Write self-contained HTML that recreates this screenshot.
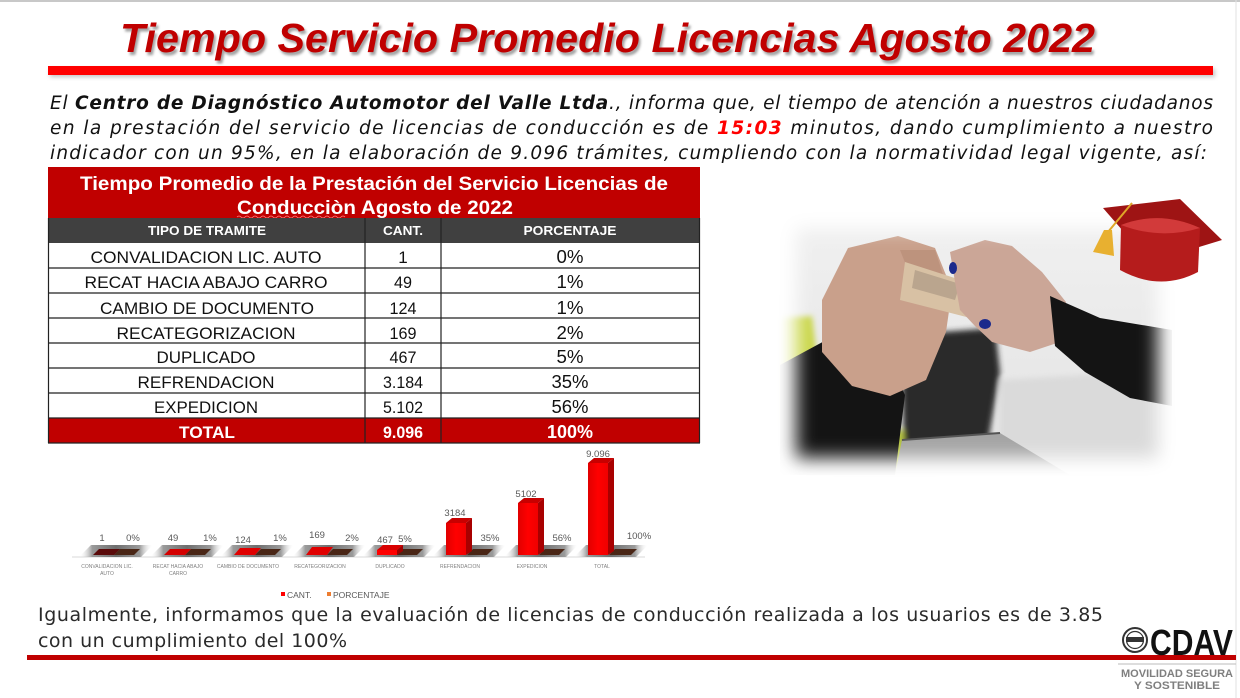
<!DOCTYPE html>
<html>
<head>
<meta charset="utf-8">
<style>
  html,body{margin:0;padding:0;background:#fff;}
  svg{display:block;}
  text{font-family:"Liberation Sans", Arial, sans-serif;}
  .cg text{font-family:"DejaVu Sans", "Liberation Sans", sans-serif;}
</style>
</head>
<body>
<svg width="1240" height="698" viewBox="0 0 1240 698" xmlns="http://www.w3.org/2000/svg">
  <defs>
    <filter id="blur1" x="-5%" y="-20%" width="110%" height="140%"><feGaussianBlur stdDeviation="1.2"/></filter>
    <filter id="blur2" x="-10%" y="-50%" width="120%" height="200%"><feGaussianBlur stdDeviation="2"/></filter>
    <filter id="blur3" x="-20%" y="-20%" width="140%" height="140%"><feGaussianBlur stdDeviation="3"/></filter>
    <filter id="blur8" x="-20%" y="-20%" width="140%" height="140%"><feGaussianBlur stdDeviation="9"/></filter>
    <mask id="pm" maskUnits="userSpaceOnUse" x="740" y="180" width="470" height="320">
      <rect x="796" y="228" width="362" height="230" fill="#fff" filter="url(#blur8)"/>
    </mask>
    <linearGradient id="floorG" x1="0" y1="0" x2="1" y2="0">
      <stop offset="0" stop-color="#fff" stop-opacity="0"/>
      <stop offset="0.18" stop-color="#9a9a9a"/>
      <stop offset="0.5" stop-color="#6e6e6e"/>
      <stop offset="0.82" stop-color="#9a9a9a"/>
      <stop offset="1" stop-color="#fff" stop-opacity="0"/>
    </linearGradient>
    <linearGradient id="barFront" x1="0" y1="0" x2="1" y2="0">
      <stop offset="0" stop-color="#e00000"/>
      <stop offset="0.5" stop-color="#ff0000"/>
      <stop offset="1" stop-color="#f00000"/>
    </linearGradient>
    <linearGradient id="bgPhoto" x1="0" y1="0" x2="0" y2="1">
      <stop offset="0" stop-color="#f1f1f1"/>
      <stop offset="1" stop-color="#e2e2e2"/>
    </linearGradient>
  </defs>

  <!-- frame lines -->
  <line x1="0" y1="1" x2="1240" y2="1" stroke="#c8c8c8" stroke-width="2"/>
  <line x1="1236" y1="0" x2="1236" y2="698" stroke="#e2e2e2" stroke-width="1"/>

  <!-- Title -->
  <text x="122" y="55" font-size="41" font-weight="bold" font-style="italic" fill="#555" opacity="0.55" textLength="975" lengthAdjust="spacingAndGlyphs" filter="url(#blur1)">Tiempo Servicio Promedio Licencias Agosto 2022</text>
  <text x="120" y="52" font-size="41" font-weight="bold" font-style="italic" fill="#c00000" textLength="975" lengthAdjust="spacingAndGlyphs">Tiempo Servicio Promedio Licencias Agosto 2022</text>

  <!-- red bar under title -->
  <rect x="50" y="69" width="1165" height="8" fill="#888" opacity="0.5" filter="url(#blur2)"/>
  <rect x="48" y="66" width="1165" height="9" fill="#ff0000"/>

  <!-- paragraph -->
  <g class="cg" font-size="18.5" font-style="italic" fill="#111" style="white-space:pre">
    <text x="50" y="109" textLength="1163" lengthAdjust="spacing">El <tspan font-weight="bold">Centro de Diagnóstico Automotor del Valle Ltda</tspan>., informa que, el tiempo de atención a nuestros ciudadanos</text>
    <text x="50" y="134" textLength="1163" lengthAdjust="spacing">en  la prestación del servicio de licencias de conducción  es de <tspan font-weight="bold" fill="#ff0000">15:03</tspan> minutos, dando cumplimiento a nuestro</text>
    <text x="50" y="159" textLength="1157" lengthAdjust="spacing">indicador con un 95%, en la elaboración de   9.096 trámites,  cumpliendo con la normatividad legal vigente, así:</text>
  </g>

  <!-- TABLE -->
  <rect x="48" y="167" width="652" height="51" fill="#c00000"/>
  <text x="374" y="190" font-size="19" font-weight="bold" fill="#fff" text-anchor="middle" textLength="588" lengthAdjust="spacingAndGlyphs">Tiempo Promedio de la Prestación del Servicio Licencias de</text>
  <text x="375" y="214" font-size="19" font-weight="bold" fill="#fff" text-anchor="middle" textLength="276" lengthAdjust="spacingAndGlyphs">Conducciòn Agosto de 2022</text>
  <path d="M237 217 q2 -2 4 0 t4 0 t4 0 t4 0 t4 0 t4 0 t4 0 t4 0 t4 0 t4 0 t4 0 t4 0 t4 0 t4 0 t4 0 t4 0 t4 0 t4 0 t4 0 t4 0 t4 0 t4 0 t4 0 t4 0 t4 0 t4 0 t4 0" stroke="#ff8080" stroke-width="0.8" fill="none"/>

  <rect x="48" y="218" width="652" height="25" fill="#404040"/>
  <g font-size="12.5" font-weight="bold" fill="#fff" text-anchor="middle">
    <text x="207" y="235" textLength="118" lengthAdjust="spacingAndGlyphs">TIPO DE TRAMITE</text>
    <text x="403" y="235" textLength="40" lengthAdjust="spacingAndGlyphs">CANT.</text>
    <text x="570" y="235" textLength="93" lengthAdjust="spacingAndGlyphs">PORCENTAJE</text>
  </g>

  <!-- body rows -->
  <rect x="48" y="243" width="652" height="175" fill="#fff"/>
  <rect x="48" y="418" width="652" height="25" fill="#c00000"/>
  <g stroke="#222" stroke-width="1.2">
    <line x1="48" y1="268" x2="700" y2="268"/>
    <line x1="48" y1="293" x2="700" y2="293"/>
    <line x1="48" y1="318" x2="700" y2="318"/>
    <line x1="48" y1="343" x2="700" y2="343"/>
    <line x1="48" y1="368" x2="700" y2="368"/>
    <line x1="48" y1="393" x2="700" y2="393"/>
    <line x1="48" y1="418" x2="700" y2="418"/>
    <line x1="48.5" y1="218" x2="48.5" y2="443"/>
    <line x1="699.5" y1="218" x2="699.5" y2="443"/>
    <line x1="365" y1="218" x2="365" y2="443"/>
    <line x1="441" y1="218" x2="441" y2="443"/>
    <line x1="48" y1="443" x2="700" y2="443"/>
  </g>
  <g font-size="17" fill="#111" text-anchor="middle">
    <text x="206" y="263" textLength="231" lengthAdjust="spacingAndGlyphs">CONVALIDACION LIC. AUTO</text>
    <text x="206" y="288" textLength="243" lengthAdjust="spacingAndGlyphs">RECAT HACIA ABAJO CARRO</text>
    <text x="207" y="314" textLength="214" lengthAdjust="spacingAndGlyphs">CAMBIO DE DOCUMENTO</text>
    <text x="206" y="339" textLength="179" lengthAdjust="spacingAndGlyphs">RECATEGORIZACION</text>
    <text x="206" y="363" textLength="99" lengthAdjust="spacingAndGlyphs">DUPLICADO</text>
    <text x="206" y="388" textLength="137" lengthAdjust="spacingAndGlyphs">REFRENDACION</text>
    <text x="206" y="413" textLength="104" lengthAdjust="spacingAndGlyphs">EXPEDICION</text>

    <text x="403" y="263">1</text>
    <text x="403" y="288" textLength="18" lengthAdjust="spacingAndGlyphs">49</text>
    <text x="403" y="314" textLength="27" lengthAdjust="spacingAndGlyphs">124</text>
    <text x="403" y="339" textLength="27" lengthAdjust="spacingAndGlyphs">169</text>
    <text x="403" y="363" textLength="27" lengthAdjust="spacingAndGlyphs">467</text>
    <text x="403" y="388" textLength="40" lengthAdjust="spacingAndGlyphs">3.184</text>
    <text x="403" y="413" textLength="40" lengthAdjust="spacingAndGlyphs">5.102</text>

    <text x="570" y="263" font-size="18" textLength="27" lengthAdjust="spacingAndGlyphs">0%</text>
    <text x="570" y="288" font-size="18" textLength="27" lengthAdjust="spacingAndGlyphs">1%</text>
    <text x="570" y="314" font-size="18" textLength="27" lengthAdjust="spacingAndGlyphs">1%</text>
    <text x="570" y="339" font-size="18" textLength="27" lengthAdjust="spacingAndGlyphs">2%</text>
    <text x="570" y="363" font-size="18" textLength="27" lengthAdjust="spacingAndGlyphs">5%</text>
    <text x="570" y="388" font-size="18" textLength="37" lengthAdjust="spacingAndGlyphs">35%</text>
    <text x="570" y="413" font-size="18" textLength="37" lengthAdjust="spacingAndGlyphs">56%</text>
  </g>
  <g font-size="17" font-weight="bold" fill="#fff" text-anchor="middle">
    <text x="207" y="438" textLength="56" lengthAdjust="spacingAndGlyphs">TOTAL</text>
    <text x="403" y="438" textLength="40" lengthAdjust="spacingAndGlyphs">9.096</text>
    <text x="570" y="438" font-size="18" textLength="46" lengthAdjust="spacingAndGlyphs">100%</text>
  </g>

  <!-- CHART -->
  <line x1="72" y1="557" x2="645" y2="557" stroke="#d9d9d9" stroke-width="1"/>

  <g>
    <polygon points="79,557 91,545 153,545 141,557" fill="url(#floorG)"/>
    <polygon points="150,557 162,545 224,545 212,557" fill="url(#floorG)"/>
    <polygon points="220,557 232,545 294,545 282,557" fill="url(#floorG)"/>
    <polygon points="292,557 304,545 366,545 354,557" fill="url(#floorG)"/>
    <polygon points="362,557 374,545 436,545 424,557" fill="url(#floorG)"/>
    <polygon points="432,557 444,545 506,545 494,557" fill="url(#floorG)"/>
    <polygon points="504,557 516,545 578,545 566,557" fill="url(#floorG)"/>
    <polygon points="574,557 586,545 648,545 636,557" fill="url(#floorG)"/>
  </g>
  <g fill="#4a2616">
    <polygon points="114,555 120,549 140,549 134,555"/>
    <polygon points="185,555 191,549 211,549 205,555"/>
    <polygon points="255,555 261,549 281,549 275,555"/>
    <polygon points="327,555 333,549 353,549 347,555"/>
    <polygon points="397,555 403,549 423,549 417,555"/>
    <polygon points="467,555 473,549 493,549 487,555"/>
    <polygon points="539,555 545,549 565,549 559,555"/>
    <polygon points="609,555 615,549 637,549 631,555"/>
  </g>
  <polygon points="93,555 99,549 120,549 114,555" fill="#5a0a0a"/>
  <polygon points="164,555 170,549 191,549 185,555" fill="#d40000"/>
  <polygon points="234,555 240,548 261,548 255,555" fill="#e00000"/>
  <polygon points="306,555 312,547 333,547 327,555" fill="#e00000"/>
  <g>
    <polygon points="397,550 403,545 403,551 397,555" fill="#a00000"/>
    <rect x="377" y="550" width="20" height="5" fill="#ff0000"/>
    <polygon points="377,550 383,545 403,545 397,550" fill="#d80000"/>
  </g>
  <g>
    <polygon points="466,523 472,518 472,551 466,555" fill="#a80000"/>
    <rect x="446" y="523" width="20" height="32" fill="url(#barFront)"/>
    <polygon points="446,523 452,518 472,518 466,523" fill="#c80000"/>
  </g>
  <g>
    <polygon points="538,503 544,498 544,551 538,555" fill="#a80000"/>
    <rect x="518" y="503" width="20" height="52" fill="url(#barFront)"/>
    <polygon points="518,503 524,498 544,498 538,503" fill="#c80000"/>
  </g>
  <g>
    <polygon points="608,463 614,458 614,551 608,555" fill="#a80000"/>
    <rect x="588" y="463" width="20" height="92" fill="url(#barFront)"/>
    <polygon points="588,463 594,458 614,458 608,463" fill="#c80000"/>
  </g>

  <g font-size="9.5" fill="#595959" text-anchor="middle">
    <text x="102" y="541">1</text>
    <text x="133" y="541">0%</text>
    <text x="173" y="541">49</text>
    <text x="210" y="541">1%</text>
    <text x="243" y="543">124</text>
    <text x="280" y="541">1%</text>
    <text x="317" y="538">169</text>
    <text x="352" y="541">2%</text>
    <text x="385" y="543">467</text>
    <text x="405" y="542">5%</text>
    <text x="455" y="516">3184</text>
    <text x="490" y="541">35%</text>
    <text x="526" y="497">5102</text>
    <text x="562" y="541">56%</text>
    <text x="598" y="457">9.096</text>
    <text x="639" y="539">100%</text>
  </g>

  <g font-size="5" fill="#7f7f7f" text-anchor="middle">
    <text x="107" y="568">CONVALIDACION LIC.</text>
    <text x="107" y="575">AUTO</text>
    <text x="178" y="568">RECAT HACIA ABAJO</text>
    <text x="178" y="575">CARRO</text>
    <text x="248" y="568">CAMBIO DE DOCUMENTO</text>
    <text x="320" y="568">RECATEGORIZACION</text>
    <text x="390" y="568">DUPLICADO</text>
    <text x="460" y="568">REFRENDACION</text>
    <text x="532" y="568">EXPEDICION</text>
    <text x="602" y="568">TOTAL</text>
  </g>

  <rect x="281" y="592" width="4" height="4" fill="#ff0000"/>
  <text x="287" y="598" font-size="8.5" fill="#595959">CANT.</text>
  <rect x="327" y="592" width="4" height="4" fill="#ed7d31"/>
  <text x="333" y="598" font-size="8.5" fill="#595959">PORCENTAJE</text>

  <!-- PHOTO -->
  <g mask="url(#pm)">
    <rect x="770" y="205" width="410" height="275" fill="url(#bgPhoto)"/>
    <g filter="url(#blur3)">
      <polygon points="780,318 812,316 822,400 780,425" fill="#c9d64a"/>
      <polygon points="840,440 915,428 935,475 835,475" fill="#b9c843"/>
      <polygon points="900,335 995,328 1000,372 985,460 905,462" fill="#2c2c2c"/>
      <polygon points="1000,380 1170,370 1170,470 1000,470" fill="#dadada"/>
    </g>
    <polygon points="902,440 1000,433 1070,475 895,475" fill="#a4a4a4"/>
    <line x1="902" y1="440" x2="1000" y2="433" stroke="#555" stroke-width="2"/>
    <path d="M780,365 L830,338 L880,342 L905,395 L895,475 L780,475 Z" fill="#141414"/>
    <path d="M822,300 L848,248 L898,236 L935,248 L952,290 L946,332 L926,380 L890,396 L852,386 L822,352 Z" fill="#c9a08b"/>
    <path d="M900,250 L935,250 L948,290 L920,300 Z" fill="#b88d78" opacity="0.7"/>
    <polygon points="905,262 992,290 986,322 900,300" fill="#d8c1a4"/>
    <polygon points="915,270 960,284 955,300 912,288" fill="#9b8a78" opacity="0.5"/>
    <path d="M950,252 L985,240 L1012,246 L1042,272 L1066,302 L1060,342 L1030,352 L992,342 L975,326 L960,310 L955,282 Z" fill="#cba697"/>
    <ellipse cx="953" cy="268" rx="4" ry="6" fill="#1c2a8c"/>
    <ellipse cx="985" cy="324" rx="6" ry="5" fill="#1c2a8c"/>
    <path d="M1050,296 L1100,318 L1172,330 L1172,406 L1130,398 L1085,372 L1055,346 Z" fill="#141414"/>
  </g>

  <!-- graduation cap -->
  <g>
    <polygon points="1103,208 1180,199 1222,240 1150,262" fill="#9e1414"/>
    <path d="M1121,225 Q1160,210 1200,228 L1198,272 Q1160,292 1120,270 Z" fill="#b51c1c"/>
    <path d="M1121,225 Q1160,210 1200,228 Q1160,240 1121,225 Z" fill="#d23a3a"/>
    <line x1="1132" y1="203" x2="1108" y2="232" stroke="#e0a628" stroke-width="2"/>
    <polygon points="1104,230 1112,230 1114,256 1093,252" fill="#e8b030"/>
  </g>

  <!-- bottom text -->
  <g class="cg" font-size="19" fill="#2a2a2a">
    <text x="38" y="621" textLength="1065" lengthAdjust="spacing">Igualmente, informamos que la evaluación de licencias de conducción realizada a los usuarios es de 3.85</text>
    <text x="38" y="647" textLength="309" lengthAdjust="spacing">con un cumplimiento del 100%</text>
  </g>

  <rect x="27" y="655" width="1209" height="5" fill="#c00000"/>
  <line x1="1118" y1="664" x2="1236" y2="664" stroke="#bbb" stroke-width="1"/>

  <!-- logo -->
  <g>
    <circle cx="1135" cy="640" r="12" fill="#fff" stroke="#333" stroke-width="2"/>
    <circle cx="1135" cy="640" r="8.5" fill="none" stroke="#333" stroke-width="1.2"/>
    <rect x="1126" y="637" width="18" height="5" fill="#333"/>
    <text x="1150" y="655" font-size="36" font-weight="bold" fill="#111" textLength="83" lengthAdjust="spacingAndGlyphs">CDAV</text>
    <text x="1177" y="677" font-size="11" font-weight="bold" fill="#7f7f7f" text-anchor="middle" textLength="112" lengthAdjust="spacingAndGlyphs">MOVILIDAD SEGURA</text>
    <text x="1177" y="689" font-size="11" font-weight="bold" fill="#7f7f7f" text-anchor="middle" textLength="86" lengthAdjust="spacingAndGlyphs">Y SOSTENIBLE</text>
  </g>
</svg>
</body>
</html>
